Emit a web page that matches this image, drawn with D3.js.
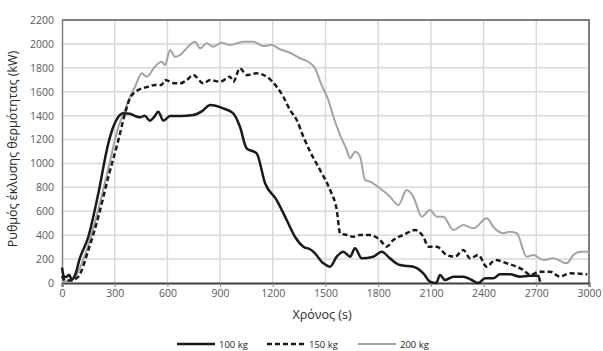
<!DOCTYPE html>
<html><head><meta charset="utf-8">
<script src="https://cdn.jsdelivr.net/npm/d3@7"></script>
<style>body{margin:0;background:#fff}svg{display:block}text{font-family:"Open Sans","Noto Sans",sans-serif}</style>
</head><body><svg id="c" width="603" height="351"></svg>
<script>
const xTicks=[0,300,600,900,1200,1500,1800,2100,2400,2700,3000];
const yTicks=[0,200,400,600,800,1000,1200,1400,1600,1800,2000,2200];
const seriesNames=["100 kg","150 kg","200 kg"];
const t100=[0,10,25,40,55,75,100,150,207,264,292,321,349,387,420,444,470,501,525,548,577,615,672,747,800,843,918,975,1013,1051,1108,1156,1222,1279,1326,1374,1412,1431,1488,1526,1564,1601,1640,1668,1706,1772,1820,1867,1924,2000,2057,2095,2130,2152,2180,2228,2285,2332,2370,2408,2455,2493,2550,2607,2664,2712,2721];
const v100=[130,60,50,70,30,70,200,387,750,1170,1307,1391,1420,1415,1395,1386,1400,1358,1390,1433,1358,1397,1397,1405,1440,1489,1461,1419,1307,1127,1085,834,694,527,387,304,282,262,165,136,220,262,220,290,206,220,262,206,150,136,81,11,0,67,25,53,53,25,0,39,39,73,73,53,61,61,10];
const t150=[0,20,50,93,150,207,264,321,359,387,434,491,529,567,586,643,672,710,747,804,843,900,956,975,1013,1051,1108,1165,1222,1260,1298,1336,1374,1412,1469,1526,1564,1583,1621,1658,1697,1753,1810,1848,1886,1943,2010,2057,2086,2133,2190,2237,2285,2323,2370,2418,2465,2532,2589,2626,2664,2721,2778,2835,2892,2990];
const v150=[60,20,20,53,276,555,889,1196,1420,1545,1614,1642,1656,1656,1698,1670,1670,1698,1740,1670,1698,1684,1726,1684,1796,1740,1754,1726,1642,1558,1447,1364,1224,1100,945,778,611,416,402,387,402,402,360,304,360,402,443,387,304,304,234,220,276,206,234,136,192,165,136,109,67,95,95,53,81,73];
const t200=[0,40,70,100,150,207,264,321,359,387,416,454,482,529,567,586,615,643,672,700,757,786,824,861,909,956,1032,1089,1146,1194,1241,1298,1355,1402,1440,1478,1516,1545,1583,1621,1640,1668,1697,1725,1753,1810,1867,1915,1962,2000,2048,2095,2133,2171,2228,2285,2342,2418,2455,2512,2550,2589,2645,2683,2740,2797,2873,2911,2949,3000];
const v200=[10,20,40,120,320,620,960,1307,1447,1558,1642,1754,1726,1810,1851,1824,1949,1893,1907,1949,2019,1963,2005,1977,2010,1991,2019,2019,1982,1991,1955,1926,1880,1851,1796,1656,1531,1391,1238,1113,1043,1098,1057,862,848,792,722,652,778,722,555,611,555,555,443,485,457,541,471,416,429,416,220,234,192,206,165,234,262,262];

const W=603,H=351,m={l:62,r:14,t:20,b:68};
const svg=d3.select("#c");
const x=d3.scaleLinear().domain([0,3000]).range([m.l,W-m.r]);
const y=d3.scaleLinear().domain([0,2200]).range([H-m.b,m.t]);

// grid
svg.append("g").selectAll("line").data(yTicks.slice(1)).join("line")
 .attr("x1",x(0)).attr("x2",x(3000)).attr("y1",d=>y(d)).attr("y2",d=>y(d))
 .attr("stroke","#d9d9d9").attr("stroke-width",1.5);
svg.append("g").selectAll("line").data(xTicks.slice(1)).join("line")
 .attr("x1",d=>x(d)).attr("x2",d=>x(d)).attr("y1",y(0)).attr("y2",y(2200))
 .attr("stroke","#d9d9d9").attr("stroke-width",1.5);
// border top/right
svg.append("path").attr("d",`M${x(0)},${y(2200)}H${x(3000)}V${y(0)}`).attr("fill","none").attr("stroke","#7f7f7f").attr("stroke-width",2);

// axes
const fmt=d3.format("d");
const xa=svg.append("g").attr("transform",`translate(0,${y(0)})`).call(d3.axisBottom(x).tickValues(xTicks).tickFormat(fmt).tickSize(4).tickPadding(3));
xa.select(".domain").attr("stroke","#404040").attr("stroke-width",2);
xa.selectAll(".tick line").attr("stroke","#808080");
xa.selectAll("text").attr("fill","#595959").attr("font-size",10.5);
const ya=svg.append("g").attr("transform",`translate(${x(0)},0)`).call(d3.axisLeft(y).tickValues(yTicks).tickFormat(fmt).tickSize(0).tickPadding(8));
ya.select(".domain").attr("stroke","#808080").attr("stroke-width",1.5);
ya.selectAll("text").attr("fill","#595959").attr("font-size",10.5);

// lines
const line=d3.line().x(d=>x(d[0])).y(d=>y(d[1])).curve(d3.curveMonotoneX);
const zip=(a,b)=>a.map((t,i)=>[t,b[i]]);
const styles=[{c:"#1a1a1a",w:2.5,dash:null},{c:"#1a1a1a",w:2.5,dash:"5,3"},{c:"#a3a3a3",w:2,dash:null}];
const data=[zip(t200,v200),zip(t150,v150),zip(t100,v100)];
const order=[2,1,0];
data.forEach((d,i)=>{const s=styles[order[i]];
 svg.append("path").datum(d).attr("d",line).attr("fill","none").attr("stroke",s.c).attr("stroke-width",s.w)
 .attr("stroke-dasharray",s.dash).attr("stroke-linejoin","round");});

// axis titles
svg.append("text").attr("x",322).attr("y",319).attr("text-anchor","middle").attr("font-size",12.5).attr("fill","#262626").text("Χρόνος (s)");
svg.append("text").attr("transform","translate(17,149) rotate(-90)").attr("text-anchor","middle").attr("font-size",12.5).attr("fill","#262626").text("Ρυθμός έκλυσης θερμότητας (kW)");

// legend
const lx=[177,267,358];
seriesNames.forEach((n,i)=>{const s=styles[i];
 svg.append("line").attr("x1",lx[i]).attr("x2",lx[i]+38).attr("y1",344).attr("y2",344).attr("stroke",s.c).attr("stroke-width",s.w).attr("stroke-dasharray",s.dash);
 svg.append("text").attr("x",lx[i]+42).attr("y",347.5).attr("font-size",9.5).attr("fill","#262626").text(n);});
</script></body></html>
